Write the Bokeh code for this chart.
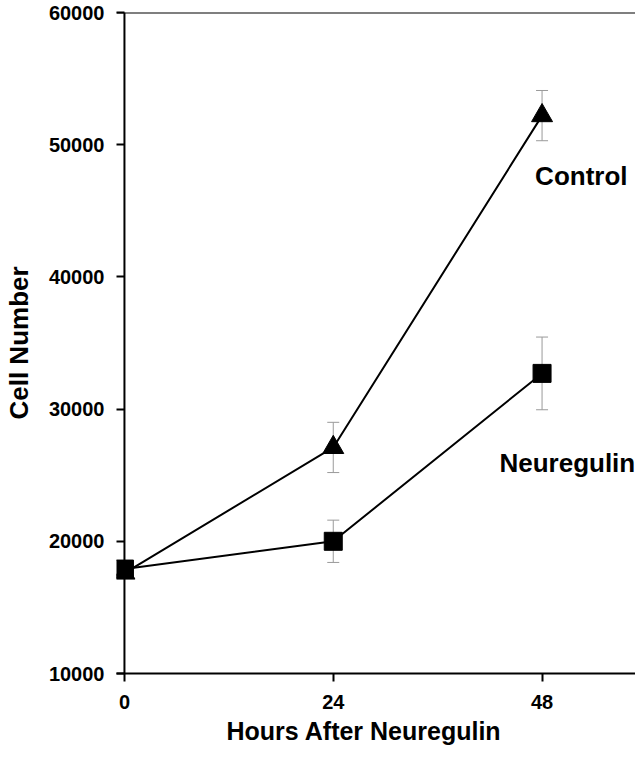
from bokeh.plotting import figure
from bokeh.models import (Range1d, FixedTicker, Span, Whisker, TeeHead, Label,
                          ColumnDataSource, BasicTickFormatter, Title)
from bokeh.embed import file_html
from bokeh.resources import INLINE

# ---- data ----
hours = [0, 24, 48]
control = [17600, 27100, 52200]
control_err = [0, 1900, 1900]
neuregulin = [17900, 20000, 32700]
neuregulin_err = [0, 1600, 2750]
x_ticks = [0, 24, 48]
y_ticks = [10000, 20000, 30000, 40000, 50000, 60000]
x_title = "Hours After Neuregulin"
y_title = "Cell Number"
series_labels = ["Control", "Neuregulin"]

FONT = "Liberation Sans"

p = figure(width=635, height=747, output_backend="svg", toolbar_location=None,
           x_range=Range1d(-0.914, 58.74), y_range=Range1d(10000, 60000),
           min_border_left=113, min_border_right=0, min_border_top=12,
           min_border_bottom=74)
p.outline_line_color = None
p.xgrid.visible = False
p.ygrid.visible = False
p.background_fill_color = "white"
p.border_fill_color = "white"

# y axis: ticks drawn inward so they end at x = 0
ya = p.yaxis[0]
ya.ticker = FixedTicker(ticks=y_ticks)
ya.formatter = BasicTickFormatter(use_scientific=False)
ya.axis_line_color = None
ya.major_tick_in = 8
ya.major_tick_out = 0
ya.major_tick_line_width = 2
ya.major_tick_line_color = "black"
ya.minor_tick_line_color = None
ya.major_label_standoff = 12
ya.major_label_text_font = FONT
ya.major_label_text_font_style = "bold"
ya.major_label_text_font_size = "20px"
ya.major_label_text_color = "black"
ya.axis_label = y_title
ya.axis_label_text_font = FONT
ya.axis_label_text_font_style = "bold"
ya.axis_label_text_font_size = "26px"
ya.axis_label_text_color = "black"
ya.axis_label_standoff = 12

xa = p.xaxis[0]
xa.ticker = FixedTicker(ticks=x_ticks)
xa.axis_line_width = 2
xa.axis_line_color = "black"
xa.major_tick_in = 0
xa.major_tick_out = 8
xa.major_tick_line_width = 2
xa.major_tick_line_color = "black"
xa.minor_tick_line_color = None
xa.major_label_standoff = 13
xa.major_label_text_font = FONT
xa.major_label_text_font_style = "bold"
xa.major_label_text_font_size = "20px"
xa.major_label_text_color = "black"

# x-axis title, shifted to sit where the reference has it
p.add_layout(Title(text=x_title, align="left", offset=110, standoff=6,
                   text_font=FONT, text_font_style="bold",
                   text_font_size="25px", text_color="black"), "below")

# axis lines for y (at x=0) and top border
p.add_layout(Span(location=0, dimension="height", line_color="black", line_width=2))
p.add_layout(Span(location=60000, dimension="width", line_color="black", line_width=2))

src_c = ColumnDataSource(dict(x=hours, y=control,
                              lo=[v - e for v, e in zip(control, control_err)],
                              hi=[v + e for v, e in zip(control, control_err)]))
src_n = ColumnDataSource(dict(x=hours, y=neuregulin,
                              lo=[v - e for v, e in zip(neuregulin, neuregulin_err)],
                              hi=[v + e for v, e in zip(neuregulin, neuregulin_err)]))

for src in (src_c, src_n):
    w = Whisker(source=src, base="x", upper="hi", lower="lo",
                line_color="#9a9a9a", line_width=1,
                upper_head=TeeHead(size=12, line_color="#9a9a9a", line_width=1),
                lower_head=TeeHead(size=12, line_color="#9a9a9a", line_width=1),
                level="underlay")
    p.add_layout(w)

p.line("x", "y", source=src_c, line_color="black", line_width=2)
p.line("x", "y", source=src_n, line_color="black", line_width=2)
p.scatter("x", "y", source=src_c, marker="triangle", size=21,
          fill_color="black", line_color="black")
p.scatter("x", "y", source=src_n, marker="square", size=18,
          fill_color="black", line_color="black")

p.add_layout(Label(x=47.2, y=47670, text=series_labels[0], text_font=FONT,
                   text_font_style="bold", text_font_size="26px",
                   text_color="black", text_baseline="alphabetic"))
p.add_layout(Label(x=43.1, y=25886, text=series_labels[1], text_font=FONT,
                   text_font_style="bold", text_font_size="26px",
                   text_color="black", text_baseline="alphabetic"))

open("out.html", "w").write(file_html(p, INLINE))
